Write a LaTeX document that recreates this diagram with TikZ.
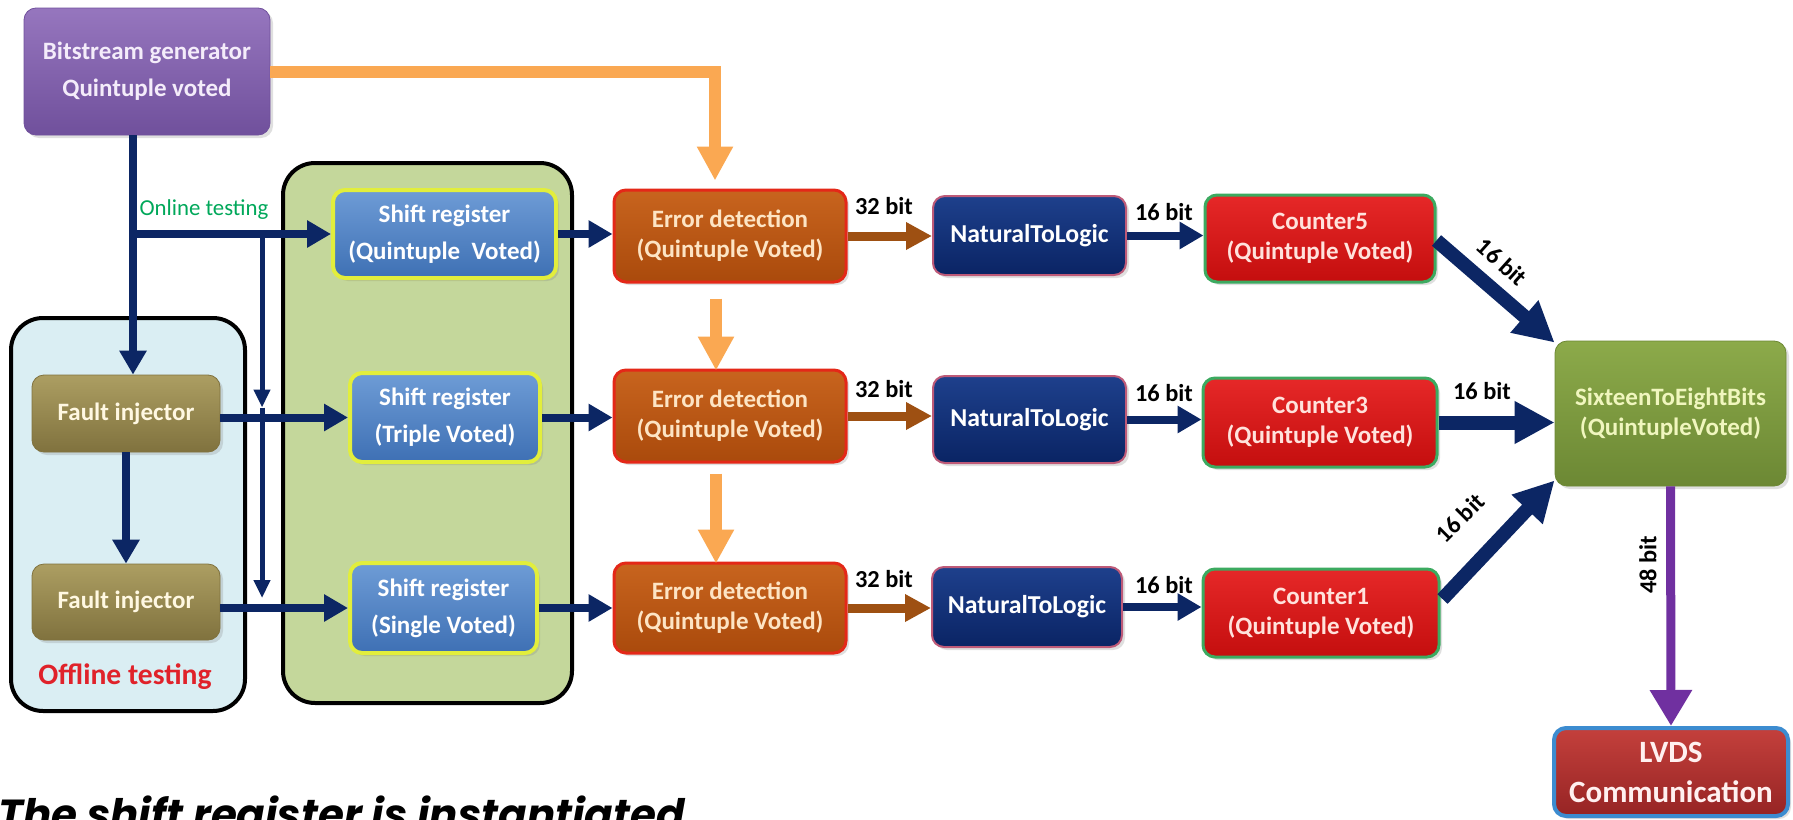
\documentclass[tikz,border=0pt]{standalone}
\usepackage{fontspec}
\setmainfont{Carlito}
\newfontfamily\capfont{Poppins}
\usetikzlibrary{arrows.meta,shadows,calc}
\definecolor{navy}{RGB}{12,38,100}
\definecolor{orng}{RGB}{250,168,82}
\definecolor{brwn}{RGB}{158,80,18}
\definecolor{purp}{RGB}{112,48,160}
\definecolor{bsgT}{RGB}{150,118,190}
\definecolor{bsgB}{RGB}{112,80,156}
\definecolor{fiT}{RGB}{172,158,98}
\definecolor{fiB}{RGB}{128,114,62}
\definecolor{srT}{RGB}{110,156,214}
\definecolor{srB}{RGB}{62,112,180}
\definecolor{srD}{RGB}{226,238,60}
\definecolor{edT}{RGB}{200,100,30}
\definecolor{edB}{RGB}{170,74,12}
\definecolor{edD}{RGB}{228,40,24}
\definecolor{ntT}{RGB}{30,64,140}
\definecolor{ntB}{RGB}{10,36,100}
\definecolor{ntD}{RGB}{190,90,120}
\definecolor{cnT}{RGB}{230,40,40}
\definecolor{cnB}{RGB}{196,14,14}
\definecolor{cnD}{RGB}{60,170,96}
\definecolor{sxT}{RGB}{140,170,74}
\definecolor{sxB}{RGB}{108,136,52}
\definecolor{lvT}{RGB}{196,64,60}
\definecolor{lvB}{RGB}{150,36,36}
\definecolor{lvD}{RGB}{60,140,208}
\definecolor{offF}{RGB}{218,238,243}
\definecolor{grnF}{RGB}{196,215,155}
\definecolor{onl}{RGB}{0,168,90}
\definecolor{offl}{RGB}{224,34,42}
\tikzset{
  box/.style={rounded corners=6pt, inner sep=0pt, align=center,
    font=\bfseries\fontsize{12.5}{15}\selectfont,
    drop shadow={opacity=0.25,shadow xshift=1.5pt,shadow yshift=-1.5pt}},
  wide/.style={font=\bfseries\fontsize{12.5}{18.5}\selectfont},
  bsgbox/.style={box, wide, top color=bsgT, bottom color=bsgB, draw=bsgB, text={rgb,255:red,244;green,236;blue,250}},
  fibox/.style={box, top color=fiT, bottom color=fiB, draw=fiB, text={rgb,255:red,255;green,248;blue,226}},
  srbox/.style={box, wide, top color=srT, bottom color=srB, draw=srD, line width=2pt, text=white},
  edbox/.style={box, top color=edT, bottom color=edB, draw=edD, line width=1.5pt, text={rgb,255:red,253;green,228;blue,196}},
  ntbox/.style={box, font=\bfseries\fontsize{12.9}{15}\selectfont, top color=ntT, bottom color=ntB, draw=ntD, line width=1pt, text=white},
  cnbox/.style={box, top color=cnT, bottom color=cnB, draw=cnD, line width=1.5pt, text={rgb,255:red,255;green,226;blue,220}},
  sxbox/.style={box, top color=sxT, bottom color=sxB, draw=sxB, text={rgb,255:red,240;green,246;blue,190}},
  lvbox/.style={box, font=\bfseries\fontsize{15.5}{20}\selectfont, top color=lvT, bottom color=lvB, draw=lvD, line width=2pt, text={rgb,255:red,255;green,240;blue,240}},
  container/.style={draw=black, line width=2pt, rounded corners=16pt, inner sep=0pt},
  navyarrow/.style={draw=navy, line width=4pt, -{Triangle[width=13pt,length=12pt]}},
  thinarrow/.style={draw=navy, line width=2.5pt, -{Triangle[width=8pt,length=9pt]}},
  bigarrow/.style={draw=navy, line width=7pt, -{Triangle[width=20pt,length=20pt]}},
  brownarrow/.style={draw=brwn, line width=4.5pt, -{Triangle[width=13pt,length=13pt]}},
  orangearrow/.style={draw=orng, line width=6pt, -{Triangle[width=17pt,length=17pt]}},
  purparrow/.style={draw=purp, line width=4.5pt, -{Triangle[width=20pt,length=18pt]}},
  bitlabel/.style={font=\bfseries\fontsize{12.2}{14}\selectfont, text=black, inner sep=0pt}
}
\begin{document}
\begin{tikzpicture}[x=0.5pt,y=-0.5pt]
\path[use as bounding box, fill=white] (0,0) rectangle (1793,819);
% containers
\node[container, fill=offF, minimum width=117pt, minimum height=196.5pt] (offc) at (128,514.5) {};
\node[container, fill=grnF, minimum width=144.5pt, minimum height=270pt] (grnc) at (427.5,433) {};
% boxes
\node[bsgbox, minimum width=123pt, minimum height=63.5pt] (bsg) at (147,71.5) {Bitstream generator\\Quintuple voted};
\node[fibox, minimum width=94pt, minimum height=38.5pt] (fi1) at (126,413.5) {Fault injector};
\node[fibox, minimum width=94pt, minimum height=38pt] (fi2) at (126,602) {Fault injector};
\node[srbox, minimum width=111.5pt, minimum height=44pt] (sr1) at (444.5,234) {Shift register\\(Quintuple~~Voted)};
\node[srbox, minimum width=95pt, minimum height=44.5pt] (sr2) at (445,417.5) {Shift register\\(Triple Voted)};
\node[srbox, minimum width=93.5pt, minimum height=45pt] (sr3) at (443.5,608) {Shift register\\(Single Voted)};
\node[edbox, minimum width=116pt, minimum height=46pt] (ed1) at (730,236) {Error detection\\(Quintuple Voted)};
\node[edbox, minimum width=116pt, minimum height=46pt] (ed2) at (730,416) {Error detection\\(Quintuple Voted)};
\node[edbox, minimum width=116pt, minimum height=45pt] (ed3) at (730,608) {Error detection\\(Quintuple Voted)};
\node[ntbox, minimum width=96.5pt, minimum height=39.5pt] (nt1) at (1029.5,235.5) {NaturalToLogic};
\node[ntbox, minimum width=96.5pt, minimum height=43.5pt] (nt2) at (1029.5,419.5) {NaturalToLogic};
\node[ntbox, minimum width=95pt, minimum height=40pt] (nt3) at (1027,607) {NaturalToLogic};
\node[cnbox, minimum width=115pt, minimum height=43.5pt] (c5) at (1320,238.5) {Counter5\\(Quintuple Voted)};
\node[cnbox, minimum width=117pt, minimum height=44.5pt] (c3) at (1320,422.5) {Counter3\\(Quintuple Voted)};
\node[cnbox, minimum width=118pt, minimum height=44pt] (c1) at (1321,613) {Counter1\\(Quintuple Voted)};
\node[sxbox, minimum width=115.5pt, minimum height=72.5pt] (sx) at (1670.5,413.5) {SixteenToEightBits\\(QuintupleVoted)};
\node[lvbox, minimum width=117pt, minimum height=44pt] (lv) at (1671,772) {LVDS\\Communication};
% texts
\node[font=\fontsize{11.4}{13}\selectfont, text=onl, inner sep=0pt] (onlt) at (204,210) {Online testing};
\node[font=\bfseries\fontsize{14.8}{17}\selectfont, text=offl, inner sep=0pt] (offt) at (125,677) {Offline testing};
% bitstream outputs
\coordinate (trunk) at (133,0);
\coordinate (fork) at (trunk |- sr1.west);
\draw[navyarrow] (trunk |- bsg.south) -- (trunk |- fi1.north);
\draw[navyarrow] (fork) -- (sr1.west);
\coordinate (va) at (262,233);
\coordinate (vb) at ($(va |- sr2.west)+(0,-10)$);
\coordinate (vc) at ($(va |- sr3.west)+(0,-10)$);
\draw[thinarrow] (va) -- (vb);
\draw[thinarrow] (vb) -- (vc);
\draw[navyarrow] (fi1.south) -- (fi2.north);
\draw[navyarrow] (fi1.east |- sr2.west) -- (sr2.west);
\draw[navyarrow] (fi2.east |- sr3.west) -- (sr3.west);
% shift registers to error detection
\draw[navyarrow] (sr1.east) -- (sr1.east -| ed1.west);
\draw[navyarrow] (sr2.east) -- (sr2.east -| ed2.west);
\draw[navyarrow] (sr3.east) -- (sr3.east -| ed3.west);
% orange
\coordinate (o1) at ($(ed1.north)+(-15,-8)$);
\draw[orangearrow] (bsg.east) -| (o1);
\draw[orangearrow] ($(ed1.south)+(-14,15)$) -- ($(ed2.north)+(-14,2)$);
\draw[orangearrow] ($(ed2.south)+(-14,10)$) -- ($(ed3.north)+(-14,2)$);
% error detection to NTL
\draw[brownarrow] (ed1.east) -- (ed1.east -| nt1.west);
\draw[brownarrow] (ed2.east) -- (ed2.east -| nt2.west);
\draw[brownarrow] (ed3.east) -- (ed3.east -| nt3.west);
\node[bitlabel] (l32a) at (884,206) {32 bit};
\node[bitlabel] (l32b) at (884,389) {32 bit};
\node[bitlabel] (l32c) at (884,579) {32 bit};
% NTL to counters
\draw[navyarrow] (nt1.east) -- (nt1.east -| c5.west);
\draw[navyarrow] (nt2.east) -- (nt2.east -| c3.west);
\draw[navyarrow] (nt3.east) -- (nt3.east -| c1.west);
\node[bitlabel] (l16a) at (1164,212) {16 bit};
\node[bitlabel] (l16b) at (1164,393) {16 bit};
\node[bitlabel] (l16c) at (1164,585) {16 bit};
% counters to sixteen
\draw[bigarrow] ($(c5.east)+(0,2)$) -- ($(sx.north west)+(0,2)$);
\draw[bigarrow] (c3.east) -- (c3.east -| sx.west);
\draw[bigarrow] ($(c1.east)+(2,-14)$) -- ($(sx.south west)+(0,-6)$);
\node[bitlabel, rotate=-42] (l16d) at (1502,262) {16 bit};
\node[bitlabel] (l16e) at (1482,391) {16 bit};
\node[bitlabel, rotate=45] (l16f) at (1460,518) {16 bit};
% sixteen to LVDS
\draw[purparrow] (sx.south) -- (lv.north);
\node[bitlabel, rotate=90] (l48) at (1648,565) {48 bit};
% caption
\begin{scope}
\clip (0,0) rectangle (1793,819);
\node[anchor=base west, inner sep=0pt, font=\capfont\bfseries\itshape\fontsize{21}{24}\selectfont] (cap) at (-2,829) {The shift register is instantiated};
\end{scope}
\end{tikzpicture}
\end{document}
